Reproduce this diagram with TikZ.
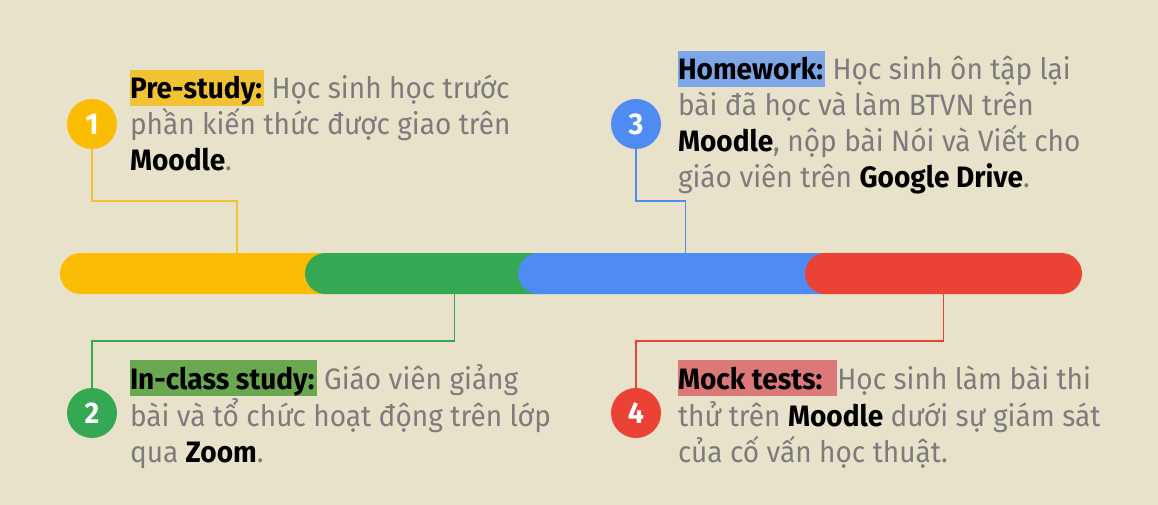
\documentclass[tikz,border=0pt]{standalone}
\usepackage{fontspec}
\setmainfont[FakeStretch=0.95]{Fira Sans}
\definecolor{bgc}{HTML}{E8E2CB}
\definecolor{gy}{HTML}{FBBC04}
\definecolor{gg}{HTML}{34A853}
\definecolor{gb}{HTML}{4E8CF3}
\definecolor{gr}{HTML}{EA4335}
\definecolor{hly}{HTML}{F1C232}
\definecolor{hlb}{HTML}{7DA6E6}
\definecolor{hlg}{HTML}{6AA84F}
\definecolor{hlr}{HTML}{DD7878}
\definecolor{txtgray}{HTML}{7C7C7C}
\newcommand\hlbox[2]{{\setlength\fboxsep{0pt}\colorbox{#1}{\rule[-6.7pt]{0pt}{35.7pt}\textcolor{black}{\bfseries #2}\hspace{2pt}}}}
\newcommand\kw[1]{\textcolor{black}{\bfseries #1}}
\begin{document}
\begin{tikzpicture}[x=1pt,y=-1pt,
  seg/.style={minimum height=41pt, rounded corners=20.5pt, inner sep=0pt, outer sep=0pt},
  num/.style={circle, minimum size=50pt, inner sep=0pt, text=white, font=\fontsize{30}{30}\selectfont\bfseries},
  txt/.style={anchor=base west, inner sep=0pt, outer sep=0pt, text=txtgray, font=\fontsize{29.5}{35}\selectfont},
  conn/.style={line width=1.1pt}]
\fill[bgc] (0,0) rectangle (1158,505);
\useasboundingbox (0,0) rectangle (1158,505);
% bar
\node[seg, fill=gy, minimum width=290pt] (s1) at (205,273.5) {};
\node[seg, fill=gg, minimum width=255pt] (s2) at (432.5,273.5) {};
\node[seg, fill=gb, minimum width=327pt] (s3) at (681.5,273.5) {};
\node[seg, fill=gr, minimum width=277pt] (s4) at (943.5,273.5) {};
\coordinate (b1) at (237,253);
\coordinate (b2) at (454.5,294);
\coordinate (b3) at (685.5,253);
\coordinate (b4) at (943.5,294);
% circles
\node[num, fill=gy] (c1) at (92,124) {1};
\node[num, fill=gb] (c3) at (636,124) {3};
\node[num, fill=gg] (c2) at (92,413) {2};
\node[num, fill=gr] (c4) at (636,413) {4};
% connectors
\draw[conn, draw=hly] (c1.south) |- (237,201) -- (b1);
\draw[conn, draw=gb] (c3.south) |- (685.5,201) -- (b3);
\draw[conn, draw=gg] (c2.north) |- (454.5,341) -- (b2);
\draw[conn, draw=gr] (c4.north) |- (943.5,341) -- (b4);
% block 1
\node[txt] (t1a) at (130,99) {\hlbox{hly}{Pre-study:} Học sinh học trước};
\node[txt] (t1b) at (130,135) {phần kiến thức được giao trên};
\node[txt] (t1c) at (130,171) {\kw{Moodle}.};
% block 3
\node[txt] (t3a) at (678,80) {\hlbox{hlb}{Homework:} Học sinh ôn tập lại};
\node[txt] (t3b) at (678,116) {bài đã học và làm BTVN trên};
\node[txt] (t3c) at (678,152) {\kw{Moodle}, nộp bài Nói và Viết cho};
\node[txt] (t3d) at (678,188) {giáo viên trên \kw{Google Drive}.};
% block 2
\node[txt] (t2a) at (130,389) {\hlbox{hlg}{In-class study:} Giáo viên giảng};
\node[txt] (t2b) at (130,426) {bài và tổ chức hoạt động trên lớp};
\node[txt] (t2c) at (130,462) {qua \kw{Zoom}.};
% block 4
\node[txt] (t4a) at (678,389) {\hlbox{hlr}{Mock tests:\hspace{13pt}}Học sinh làm bài thi};
\node[txt] (t4b) at (678,426) {thử trên \kw{Moodle} dưới sự giám sát};
\node[txt] (t4c) at (678,462) {của cố vấn học thuật.};
\end{tikzpicture}
\end{document}
